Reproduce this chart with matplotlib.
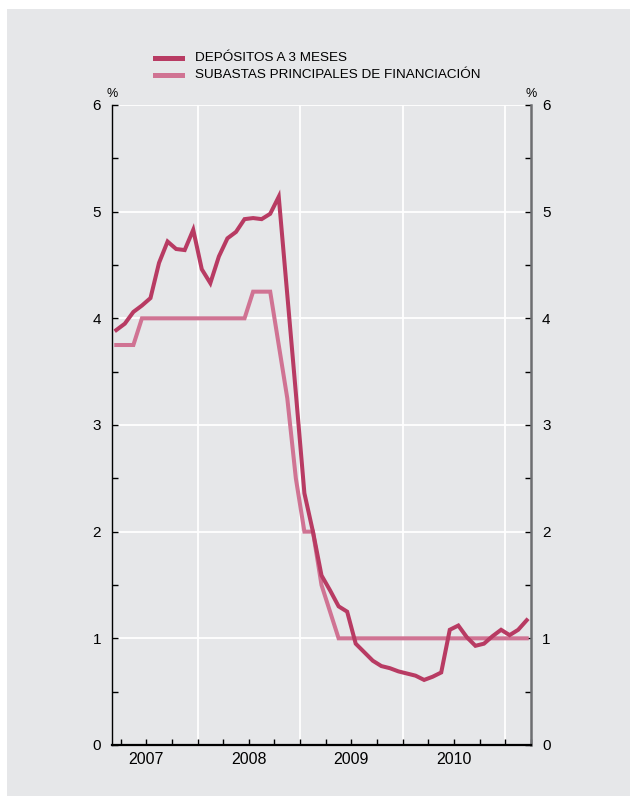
import matplotlib
matplotlib.use("Agg")
import matplotlib.pyplot as plt
from matplotlib.patches import Rectangle
from matplotlib.lines import Line2D

plt.rcParams['font.family'] = ['Liberation Sans', 'DejaVu Sans']

# Monthly data, March 2007 - March 2011
start_year, start_month = 2007, 3
depositos_3m = [
    3.89, 3.95, 4.06, 4.12, 4.19, 4.52, 4.72, 4.65, 4.64, 4.83,   # Mar-Dec 2007
    4.46, 4.33, 4.58, 4.75, 4.81, 4.93, 4.94, 4.93, 4.98, 5.14, 4.22, 3.30,  # 2008
    2.36, 2.00, 1.59, 1.45, 1.30, 1.25, 0.95, 0.87, 0.79, 0.74, 0.72, 0.69,  # 2009
    0.67, 0.65, 0.61, 0.64, 0.68, 1.08, 1.12, 1.01, 0.93, 0.95, 1.02, 1.08,  # 2010
    1.03, 1.08, 1.17,                                                        # Jan-Mar 2011
]
subastas = [
    3.75, 3.75, 3.75, 4.00, 4.00, 4.00, 4.00, 4.00, 4.00, 4.00,
    4.00, 4.00, 4.00, 4.00, 4.00, 4.00, 4.25, 4.25, 4.25, 3.75, 3.25, 2.50,
    2.00, 2.00, 1.50, 1.25, 1.00, 1.00, 1.00, 1.00, 1.00, 1.00, 1.00, 1.00,
    1.00, 1.00, 1.00, 1.00, 1.00, 1.00, 1.00, 1.00, 1.00, 1.00, 1.00, 1.00,
    1.00, 1.00, 1.00,
]
years = [2007, 2008, 2009, 2010]
series_names = ["DEPÓSITOS A 3 MESES", "SUBASTAS PRINCIPALES DE FINANCIACIÓN"]

# x position: middle of each month in fractional years
x = []
for i in range(len(depositos_3m)):
    m = start_month - 1 + i
    x.append(start_year + m // 12 + (m % 12 + 0.5) / 12)

DARK = "#b83b63"
LIGHT = "#d07393"
BG = "#e6e7e9"
W, H = 630, 796
XMIN, XMAX = 2007 + 2 / 12, 2011 + 3 / 12

fig = plt.figure(figsize=(W / 100, H / 100), dpi=100, facecolor="white")
bgrect = Rectangle((7 / W, 0), 1, 1 - 9 / H, transform=fig.transFigure,
                   facecolor=BG, edgecolor="none", zorder=-10)
fig.patches.append(bgrect)

ax = fig.add_axes([112 / W, 1 - 745 / H, (531 - 112) / W, (745 - 105) / H])
ax.set_zorder(5)
ax.set_facecolor(BG)

ax.set_xlim(XMIN, XMAX)
ax.set_ylim(0, 6)

# grid
for yv in range(1, 7):
    ax.axhline(yv, color="white", lw=1.3, zorder=1)
for yr in range(2008, 2012):
    ax.axvline(yr, color="white", lw=1.3, zorder=1)

ax.plot(x, subastas, color=LIGHT, lw=2.9, solid_joinstyle="miter", zorder=3)
ax.plot(x, depositos_3m, color=DARK, lw=2.9, solid_joinstyle="miter", zorder=4)

# spines
ax.spines['top'].set_visible(False)
ax.spines['left'].set_color("black")
ax.spines['left'].set_linewidth(1.0)
ax.spines['bottom'].set_color("black")
ax.spines['bottom'].set_linewidth(1.6)
ax.spines['right'].set_color("#6d6e71")
ax.spines['right'].set_linewidth(1.8)

# y ticks
yt = [i * 0.5 for i in range(13)]
ax.set_yticks(yt)
ax.set_yticklabels([str(int(v)) if v == int(v) else "" for v in yt])
ax.tick_params(axis='y', direction='in', length=4, width=1, colors="black",
               labelsize=11, left=True, right=True, labelleft=True, labelright=True, pad=8)

# x ticks: quarters
xt = []
xl = []
for yr in range(2007, 2012):
    for q in range(4):
        v = yr + q / 4
        if XMIN <= v <= XMAX:
            xt.append(v)
            xl.append(str(yr) if q == 2 and yr in years else "")
ax.set_xticks(xt)
ax.set_xticklabels(xl)
ax.tick_params(axis='x', direction='in', length=4, width=1, colors="black",
               labelsize=11.5, pad=5)

# % signs
ax.text(XMIN, 6.05, "%", ha="center", va="bottom", fontsize=9, clip_on=False)
ax.text(XMAX, 6.05, "%", ha="center", va="bottom", fontsize=9, clip_on=False)

# legend
fig.add_artist(Line2D([155 / W, 182 / W], [1 - 58 / H, 1 - 58 / H], color=DARK, lw=3.6,
                      transform=fig.transFigure))
fig.add_artist(Line2D([155 / W, 182 / W], [1 - 75 / H, 1 - 75 / H], color=LIGHT, lw=3.6,
                      transform=fig.transFigure))
fig.text(195 / W, 1 - 58 / H, series_names[0], ha="left", va="center", fontsize=9.7)
fig.text(195 / W, 1 - 75 / H, series_names[1], ha="left", va="center", fontsize=9.7)

fig.savefig("out.png", dpi=100, facecolor=fig.get_facecolor())
